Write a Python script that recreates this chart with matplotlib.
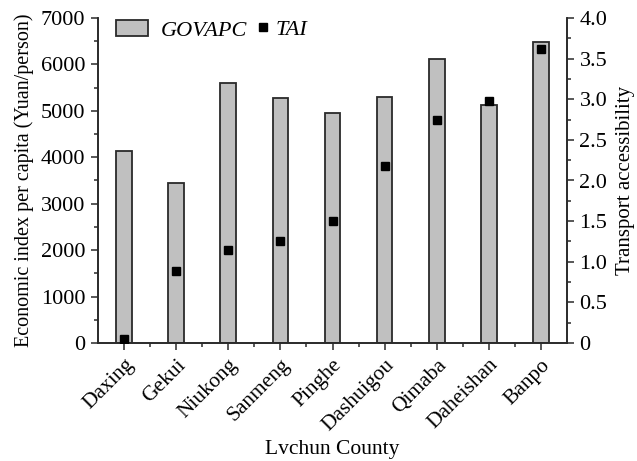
import matplotlib
matplotlib.use("Agg")
import matplotlib.pyplot as plt
from matplotlib.ticker import MultipleLocator
import numpy as np

counties = ["Daxing", "Gekui", "Niukong", "Sanmeng", "Pinghe", "Dashuigou",
            "Qimaba", "Daheishan", "Banpo"]
govapc = [4130, 3440, 5600, 5270, 4960, 5300, 6120, 5120, 6480]
tai = [0.05, 0.89, 1.14, 1.26, 1.50, 2.18, 2.74, 2.98, 3.62]

plt.rcParams['font.family'] = ['Liberation Serif', 'DejaVu Serif']

fig = plt.figure(figsize=(6.37, 4.61), dpi=100)
ax = fig.add_axes([98/637, 1 - 343/461, (567-98)/637, (343-18)/461])
x = np.arange(len(counties))
ax.bar(x, govapc, width=0.3, color='#c0c0c0', edgecolor='#2a2a2a',
       linewidth=1.3, label='GOVAPC', zorder=2)
ax.set_xlim(-0.5, len(counties) - 0.5)
ax.set_ylim(0, 7000)
ax.yaxis.set_major_locator(MultipleLocator(1000))
ax.yaxis.set_minor_locator(MultipleLocator(500))
ax.set_xticks(x)
ax.set_xticks(x[:-1] + 0.5, minor=True)
ax.set_xticklabels(counties, rotation=45, ha='right', rotation_mode='anchor',
                   fontsize=15.5)
ax.tick_params(axis='both', which='major', direction='out', length=5, width=1.1,
               labelsize=16, color='#2a2a2a', pad=4)
ax.tick_params(axis='x', which='major', labelsize=15.5)
ax.tick_params(axis='both', which='minor', direction='out', length=3, width=1.1,
               color='#2a2a2a')
ax.set_ylabel('Economic index per capita (Yuan/person)', fontsize=14.5, labelpad=5)
ax.set_xlabel('Lvchun County', fontsize=15.5, labelpad=4)
ax.spines['top'].set_visible(False)
for s in ax.spines.values():
    s.set_linewidth(1.2)
    s.set_color('#2a2a2a')

ax2 = ax.twinx()
ax2.plot(x, tai, linestyle='none', marker='s', markersize=5.2, color='black',
         label='TAI', zorder=3)
ax2.set_ylim(0, 4.0)
ax2.set_yticks(np.arange(0, 4.01, 0.5))
ax2.yaxis.set_minor_locator(MultipleLocator(0.25))
ax2.set_yticklabels(['0'] + ['%.1f' % v for v in np.arange(0.5, 4.01, 0.5)])
ax2.tick_params(axis='y', which='major', direction='out', length=5, width=1.1,
                labelsize=16, color='#2a2a2a', pad=4)
ax2.tick_params(axis='y', which='minor', direction='out', length=3, width=1.1,
                color='#2a2a2a')
ax2.set_ylabel('Transport accessibility', fontsize=15, labelpad=6)
ax2.spines['top'].set_visible(False)
for s in ax2.spines.values():
    s.set_linewidth(1.2)
    s.set_color('#2a2a2a')

h1, l1 = ax.get_legend_handles_labels()
h2, l2 = ax2.get_legend_handles_labels()
leg1 = ax2.legend(h1, l1, loc='upper left', frameon=False,
                  prop={'style': 'italic', 'size': 16}, handlelength=1.45,
                  handleheight=0.75, handletextpad=0.55, borderpad=0.0,
                  borderaxespad=0.0, bbox_to_anchor=(0.038, 0.995))
ax2.add_artist(leg1)
ax2.legend(h2, l2, loc='upper left', frameon=False,
           prop={'style': 'italic', 'size': 16}, handlelength=0.5,
           handletextpad=0.3, borderpad=0.0, borderaxespad=0.0,
           bbox_to_anchor=(0.340, 0.995))

fig.savefig('out.png', dpi=100)
